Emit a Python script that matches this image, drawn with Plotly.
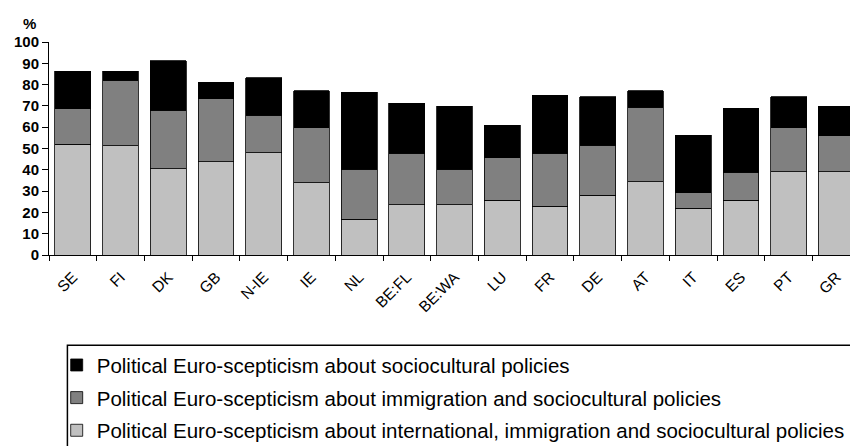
import plotly.graph_objects as go

countries = ["SE", "FI", "DK", "GB", "N-IE", "IE", "NL", "BE:FL", "BE:WA", "LU",
             "FR", "DE", "AT", "IT", "ES", "PT", "GR"]

# segment heights (%)
international = [52.0, 51.2, 40.5, 43.7, 48.0, 34.0, 16.9, 23.5, 23.5, 25.7,
                 22.8, 28.1, 34.5, 22.0, 25.7, 39.0, 39.0]
immigration = [16.6, 30.9, 27.5, 29.6, 17.7, 25.7, 23.4, 24.3, 16.8, 19.9,
               25.0, 23.5, 34.8, 7.3, 13.2, 20.7, 16.9]
sociocultural = [17.7, 4.2, 23.3, 7.8, 17.6, 17.5, 36.1, 23.4, 29.5, 15.3,
                 27.2, 22.7, 7.9, 27.0, 30.1, 14.7, 13.9]

names = [
    "Political Euro-scepticism about international, immigration and sociocultural policies",
    "Political Euro-scepticism about immigration and sociocultural policies",
    "Political Euro-scepticism about sociocultural policies",
]
colors = ["#C0C0C0", "#808080", "#000000"]
series = [international, immigration, sociocultural]

fig = go.Figure()
for i, (vals, name, col) in enumerate(zip(series, names, colors)):
    fig.add_trace(go.Bar(
        x=countries, y=vals, name=name, legendgroup=f"g{i}", legendrank=3 - i,
        marker=dict(color=col, line=dict(color="#000000", width=0.8)),
    ))

# page body has an 8px margin; figure coordinates = screen coordinates - 8
OFF = 8
W, H = 850, 438
L = 49.3 - OFF
T = 41.7 - OFF
BOT = 255.3 - OFF
B = H - BOT
plot_w = W - L
plot_h = BOT - T
cat_w = 47.7
xmax = -0.5 + plot_w / cat_w

def px_x(x):
    return (x - OFF - L) / plot_w

def px_y(y):
    return (BOT - (y - OFF)) / plot_h

fig.update_layout(
    width=W, height=H,
    margin=dict(l=L, r=0, t=T, b=B, pad=0, autoexpand=False),
    barmode="stack", bargap=0.25,
    plot_bgcolor="white", paper_bgcolor="white",
    font=dict(family="Liberation Sans, Arial, sans-serif", color="#000000"),
    showlegend=True,
    legend=dict(
        xref="paper", yref="paper",
        x=px_x(57), y=px_y(345.7), xanchor="left", yanchor="top",
        traceorder="grouped", tracegroupgap=3,
        font=dict(family="Liberation Sans, Arial, sans-serif", size=20.5, color="#000000"),
        bgcolor="rgba(0,0,0,0)", borderwidth=0,
    ),
    xaxis=dict(
        type="category", range=[-0.5, xmax],
        showline=True, linecolor="#000000", linewidth=1,
        ticks="outside", ticklen=5, tickcolor="#000000", tickson="boundaries",
        tickangle=-45, ticklabelstandoff=6,
        tickfont=dict(size=15.5, family="Liberation Sans, Arial, sans-serif"),
        showgrid=False, zeroline=False, automargin=False,
    ),
    yaxis=dict(
        range=[0, 100], dtick=10, tick0=0,
        showline=True, linecolor="#000000", linewidth=1,
        ticks="outside", ticklen=6, tickcolor="#000000",
        tickfont=dict(size=15, family="Liberation Sans, Arial, sans-serif", weight="bold"),
        showgrid=False, zeroline=False, automargin=False,
    ),
    annotations=[dict(
        text="<b>%</b>", xref="paper", yref="paper",
        x=px_x(29.5), y=px_y(23),
        showarrow=False, xanchor="center", yanchor="middle",
        font=dict(size=15, family="Liberation Sans, Arial, sans-serif"),
    )],
    shapes=[dict(
        type="rect", xref="paper", yref="paper",
        x0=px_x(67.7), x1=1.2,
        y0=px_y(345.7), y1=-1.5,
        line=dict(color="#000000", width=1.5), fillcolor="rgba(0,0,0,0)",
        layer="above",
    )],
)

fig.write_html("out.html")
